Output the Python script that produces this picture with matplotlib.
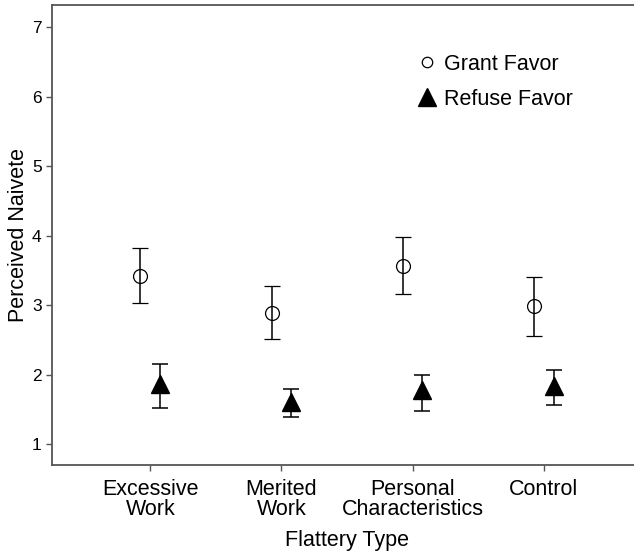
import matplotlib.pyplot as plt
from matplotlib.lines import Line2D
import numpy as np

plt.rcParams["font.family"] = ["Liberation Sans", "DejaVu Sans"]

CATEGORIES = ["Excessive\nWork", "Merited\nWork", "Personal\nCharacteristics", "Control"]

GRANT_MEAN = [3.42, 2.89, 3.57, 2.99]
GRANT_LOW = [3.03, 2.52, 3.16, 2.56]
GRANT_HIGH = [3.82, 3.27, 3.98, 3.40]

REFUSE_MEAN = [1.86, 1.61, 1.78, 1.84]
REFUSE_LOW = [1.52, 1.39, 1.48, 1.56]
REFUSE_HIGH = [2.16, 1.80, 2.00, 2.07]

Y_TICKS = [1, 2, 3, 4, 5, 6, 7]

FRAME = "#555555"
OFFSET = 0.075


def err(mean, low, high):
    mean = np.array(mean)
    return np.vstack([mean - np.array(low), np.array(high) - mean])


fig = plt.figure(figsize=(6.34, 5.54), dpi=100, facecolor="white")
ax = fig.add_axes([52 / 634, 89 / 554, 590 / 634, 460 / 554])

x = np.arange(len(CATEGORIES))

ax.errorbar(
    x - OFFSET, GRANT_MEAN, yerr=err(GRANT_MEAN, GRANT_LOW, GRANT_HIGH),
    fmt="o", ms=10, mfc="none", mec="black", mew=0.9,
    ecolor="black", elinewidth=1.1, capsize=6, capthick=1.1,
)
ax.errorbar(
    x + OFFSET, REFUSE_MEAN, yerr=err(REFUSE_MEAN, REFUSE_LOW, REFUSE_HIGH),
    fmt="^", ms=12.5, mfc="black", mec="black",
    ecolor="black", elinewidth=1.1, capsize=6, capthick=1.1,
)

ax.set_xlim(-0.75, 3.75)
ax.set_ylim(0.70, 7.32)
ax.set_xticks(x)
ax.set_xticklabels(CATEGORIES, fontsize=15.5, linespacing=0.95)
ax.set_yticks(Y_TICKS)
ax.tick_params(axis="y", labelsize=12.5, length=4.5, width=1, color=FRAME, pad=3)
ax.tick_params(axis="x", length=4, width=1, color=FRAME, pad=6)

for s in ax.spines.values():
    s.set_color(FRAME)
    s.set_linewidth(1.3)

ax.set_xlabel("Flattery Type", fontsize=15.5, labelpad=7)
ax.set_ylabel("Perceived Naivete", fontsize=15.5, labelpad=2)

legend_handles = [
    Line2D([], [], ls="none", marker="o", ms=7.5, mfc="none", mec="black", mew=0.9),
    Line2D([], [], ls="none", marker="^", ms=13.5, mfc="black", mec="black"),
]
ax.legend(
    legend_handles, ["Grant Favor", "Refuse Favor"],
    loc="upper left", bbox_to_anchor=(405 / 634, 1 - 43 / 554),
    bbox_transform=fig.transFigure, frameon=False, fontsize=15.5,
    handletextpad=0.3, labelspacing=0.66, handlelength=1.0, borderpad=0,
)

fig.savefig("out.png", dpi=100, facecolor="white")
